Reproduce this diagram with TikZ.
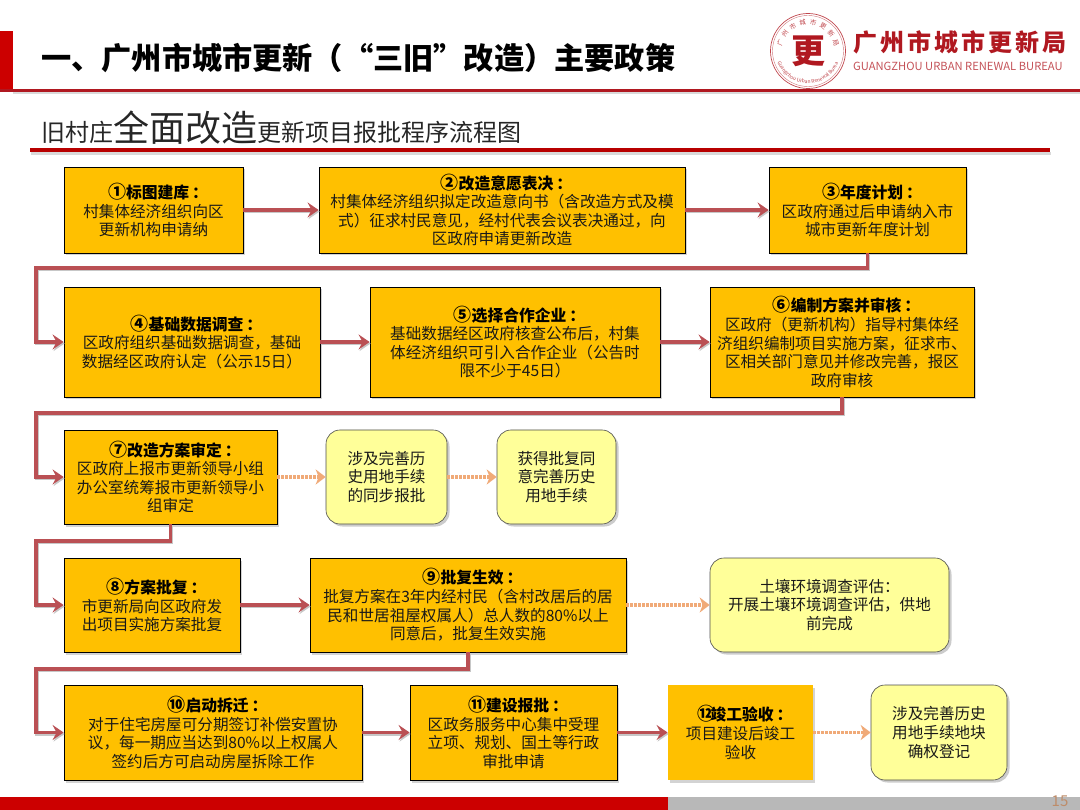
\documentclass[tikz,border=0pt]{standalone}
\usepackage{fontspec}
\setmainfont{Noto Sans CJK SC}
\usetikzlibrary{positioning,arrows.meta,calc,shadows,decorations.text}
\definecolor{policyred}{RGB}{204,0,0}
\definecolor{ruledark}{RGB}{176,24,32}
\definecolor{stepamber}{RGB}{255,192,0}
\definecolor{softyellow}{RGB}{255,255,153}
\definecolor{flowred}{RGB}{186,80,84}
\definecolor{sideorange}{RGB}{240,170,120}
\definecolor{footgray}{RGB}{184,184,184}
\definecolor{pagetan}{RGB}{190,140,105}
\newcommand{\steptitle}[2]{{\fontsize{15.8}{19}\selectfont\bfseries\color{black}{\fontsize{18}{19}\selectfont #1}#2\hspace{3pt}：\hspace{-9pt}}\\}

\begin{document}
\begin{tikzpicture}[
  x=1pt,y=-1pt,
  every node/.style={align=center,font=\fontsize{15.6}{18.6}\selectfont,text=black!90,inner sep=0pt},
  stepbox/.style={rectangle,fill=stepamber,draw=black,line width=0.8pt,
                  drop shadow={shadow xshift=2pt,shadow yshift=-2.5pt,opacity=0.35}},
  softbox/.style={rectangle,rounded corners=14pt,fill=softyellow,draw=black!70,line width=0.6pt,
                  drop shadow={shadow xshift=2.5pt,shadow yshift=-2.5pt,opacity=0.4}},
  flow/.style={-{Stealth[length=11pt,width=15pt,inset=4pt]},line width=3.2pt,color=flowred,
               preaction={draw=black!22,line width=3.2pt,transform canvas={shift={(1pt,-1.5pt)}}}},
  side/.style={-{Stealth[length=10pt,width=15pt,inset=3pt]},line width=3.6pt,color=sideorange,
               dash pattern=on 2.5pt off 1.5pt}
]
\useasboundingbox (0,0) rectangle (1080,810);
% header
\fill[policyred] (0,31) rectangle (13,91);
\fill[black!15] (13,92) rectangle (1080,94);
\fill[ruledark] (0,89) rectangle (1080,92);
\node[anchor=west,font=\fontsize{30.2}{34}\selectfont\bfseries,text=black] (title) at (41,58)
  {一、广州市城市更新（“三旧”改造）主要政策};
\node[anchor=base west,text=black!85] (subtitle) at (41,142)
  {\fontsize{24}{26}\selectfont 旧村庄\fontsize{36}{40}\selectfont 全面改造\fontsize{24}{26}\selectfont 更新项目报批程序流程图};
\fill[black!15] (31,152) rectangle (1051,155);
\fill[policyred!90!black] (30,148) rectangle (1050,152.5);
% logo
\node[circle,draw=ruledark!80,line width=0.7pt,minimum size=75pt] (seal) at (808,51) {};
\node[circle,draw=ruledark!60,line width=0.4pt,minimum size=71pt] (sealin) at (808,51) {};
\node[font=\fontsize{34}{34}\selectfont\bfseries,text=ruledark] (sealchar) at (seal.center) {更};
\path[decorate,decoration={text along path,text align={fit to path},
  text={|\fontsize{6.5}{7}\selectfont\color{ruledark!80}|广州市城市更新局}}]
  (781.7,46.5) arc[start angle=170,end angle=10,radius=26.7pt];
\path[decorate,decoration={text along path,text align={fit to path},
  text={|\fontsize{5}{6}\selectfont\color{ruledark!80}|Guangzhou Urban Renewal Bureau}}]
  (777.5,62.1) arc[start angle=200,end angle=340,radius=32.5pt];
\node[anchor=west,font=\fontsize{24}{26}\selectfont\bfseries,text=ruledark] (bureau) at (853,42)
  {广\hspace{3pt}州\hspace{3pt}市\hspace{3pt}城\hspace{3pt}市\hspace{3pt}更\hspace{3pt}新\hspace{3pt}局};
\node[anchor=west,font=\fontsize{11.2}{14}\selectfont,text=ruledark!75] (bureauen) at (853,66)
  {GUANGZHOU URBAN RENEWAL BUREAU};
% steps
\node[stepbox,minimum width=179pt,minimum height=86pt] (s1) at (153.5,210)
  {\steptitle{①}{标图建库}村集体经济组织向区\\更新机构申请纳};
\node[stepbox,minimum width=366pt,minimum height=86pt] (s2) at (502,210)
  {\steptitle{②}{改造意愿表决}村集体经济组织拟定改造意向书（含改造方式及模\\式）征求村民意见，经村代表会议表决通过，向\\区政府申请更新改造};
\node[stepbox,minimum width=197pt,minimum height=86pt] (s3) at (867.5,210)
  {\steptitle{③}{年度计划}区政府通过后申请纳入市\\城市更新年度计划};
\node[stepbox,minimum width=256pt,minimum height=110pt] (s4) at (192,342)
  {\steptitle{④}{基础数据调查}区政府组织基础数据调查，基础\\数据经区政府认定（公示15日）};
\node[stepbox,minimum width=290pt,minimum height=110pt] (s5) at (515,342)
  {\steptitle{⑤}{选择合作企业}基础数据经区政府核查公布后，村集\\体经济组织可引入合作企业（公告时\\限不少于45日）};
\node[stepbox,minimum width=264pt,minimum height=110pt] (s6) at (842,342)
  {\steptitle{⑥}{编制方案并审核}区政府（更新机构）指导村集体经\\济组织编制项目实施方案，征求市、\\区相关部门意见并修改完善，报区\\政府审核};
\node[stepbox,minimum width=213pt,minimum height=94pt] (s7) at (170.5,477)
  {\steptitle{⑦}{改造方案审定}区政府上报市更新领导小组\\办公室统筹报市更新领导小\\组审定};
\node[softbox,minimum width=121pt,minimum height=94pt] (h1) at (386.5,477)
  {涉及完善历\\史用地手续\\的同步报批};
\node[softbox,minimum width=119pt,minimum height=94pt] (h2) at (556.5,477)
  {获得批复同\\意完善历史\\用地手续};
\node[stepbox,minimum width=176pt,minimum height=94pt] (s8) at (152,605)
  {\steptitle{⑧}{方案批复}市更新局向区政府发\\出项目实施方案批复};
\node[stepbox,minimum width=316pt,minimum height=94pt] (s9) at (468,605)
  {\steptitle{⑨}{批复生效}批复方案在3年内经村民（含村改居后的居\\民和世居祖屋权属人）总人数的80\%以上\\同意后，批复生效实施};
\node[softbox,minimum width=239pt,minimum height=94pt] (h3) at (829.5,605)
  {土壤环境调查评估：\\开展土壤环境调查评估，供地\\前完成};
\node[stepbox,minimum width=298pt,minimum height=95pt] (s10) at (213,732.5)
  {\steptitle{⑩}{启动拆迁}对于住宅房屋可分期签订补偿安置协\\议，每一期应当达到80\%以上权属人\\签约后方可启动房屋拆除工作};
\node[stepbox,minimum width=207pt,minimum height=95pt] (s11) at (513.5,732.5)
  {\steptitle{⑪}{建设报批}区政务服务中心集中受理\\立项、规划、国土等行政\\审批申请};
\node[stepbox,draw=none,minimum width=145pt,minimum height=95pt] (s12) at (740.5,732.5)
  {\steptitle{⑫\hspace{-5pt}}{竣工验收}项目建设后竣工\\验收};
\node[softbox,minimum width=136pt,minimum height=95pt] (h4) at (939,732.5)
  {涉及完善历史\\用地手续地块\\确权登记};
% connectors
\coordinate (turna) at (36,268);
\coordinate (turnb) at (36,413);
\coordinate (turnc) at (36,541);
\coordinate (turnd) at (36,669);
\draw[flow] (s1) -- (s2);
\draw[flow] (s2) -- (s3);
\draw[flow] (s4) -- (s5);
\draw[flow] (s5) -- (s6);
\draw[flow] (s8) -- (s9);
\draw[flow] (s10) -- (s11);
\draw[flow] (s11) -- (s12);
\draw[flow] (s3.south) |- (turna) |- (s4.west);
\draw[flow] (s6.south) |- (turnb) |- (s7.west);
\draw[flow] (s7.south) |- (turnc) |- (s8.west);
\draw[flow] (s9.south) |- (turnd) |- (s10.west);
\draw[side] (s7) -- (h1);
\draw[side] (h1) -- (h2);
\draw[side] (s9) -- (h3);
\draw[side] (s12) -- (h4);
% footer
\fill[policyred] (0,797) rectangle (668,810);
\fill[footgray] (668,797) rectangle (1080,810);
\node[font=\fontsize{15}{15}\selectfont,text=pagetan] (pageno) at (1060,801) {15};
\end{tikzpicture}
\end{document}
